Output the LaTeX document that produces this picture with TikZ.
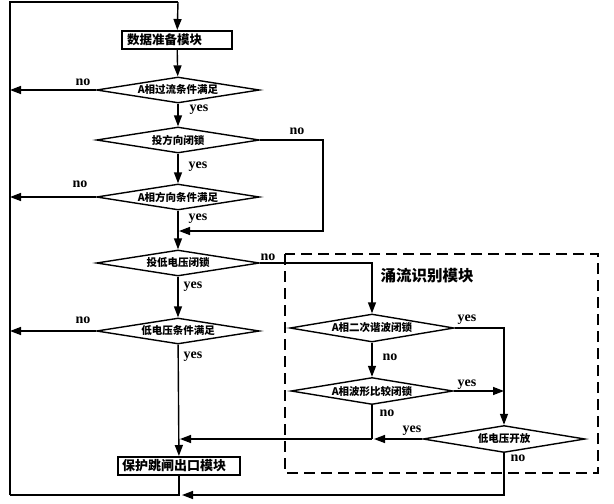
\documentclass[tikz,border=0pt]{standalone}
\usepackage{fontspec}
\setmainfont{Liberation Serif}
\newfontfamily\cjk{Noto Sans CJK SC}
\usetikzlibrary{shapes.geometric,arrows.meta}
\begin{document}
\begin{tikzpicture}[x=1pt,y=-1pt,line width=1.4pt,
 arr/.style={-{Triangle[length=11pt,width=8pt]}},
 dia/.style={diamond,draw,aspect=6,inner sep=0pt,minimum width=163pt,minimum height=26pt,font=\cjk\bfseries\fontsize{10.5}{10.5}\selectfont},
 blk/.style={draw,line width=2pt,inner ysep=0pt,minimum height=18pt,align=left,font=\cjk\bfseries\fontsize{12.5}{12.5}\selectfont},
 lbl/.style={font=\bfseries\fontsize{14}{14}\selectfont,inner sep=0pt}]
\useasboundingbox (0,0) rectangle (614,504);
% nodes
\node[blk,inner xsep=5pt,text width=100pt] (prep) at (177,40) {数据准备模块};
\node[dia] (d1) at (178,90) {A相过流条件满足};
\node[dia] (d2) at (178,140) {投方向闭锁};
\node[dia] (d3) at (178,197) {A相方向条件满足};
\node[dia] (d4) at (178,263) {投低电压闭锁};
\node[dia] (d5) at (178,331) {低电压条件满足};
\node[blk,inner xsep=4pt,text width=114pt,font=\cjk\bfseries\fontsize{13}{13}\selectfont] (out) at (179,466) {保护跳闸出口模块};
\node[dia,minimum width=164pt,minimum height=28pt] (a) at (372,328) {A相二次谐波闭锁};
\node[dia,minimum width=162pt,minimum height=27pt] (b) at (372,391) {A相波形比较闭锁};
\node[dia,minimum width=162pt,minimum height=27pt] (c) at (504,439) {低电压开放};
\node[font=\cjk\bfseries\fontsize{15.5}{15.5}\selectfont,inner sep=0pt] (title) at (427,276) {涌流识别模块};
% frame
\draw[dashed,dash pattern=on 11pt off 6pt,line width=1.6pt] (285,254) rectangle (598,473);
% coordinates
\coordinate (tl) at (10,2);
\coordinate (tr) at (178,2);
\coordinate (bl) at (10,495);
\coordinate (bj) at (182,495);
\coordinate (r2) at (323,140);
\coordinate (r2b) at (323,231);
\coordinate (j2) at (179,231);
\coordinate (r4) at (372,263);
\coordinate (ar) at (504,328);
\coordinate (jb) at (372,439);
\coordinate (jc) at (374,439);
\coordinate (jm) at (180,439);
% connectors
\draw (bl) -- (tl) -- (tr);
\draw[arr] (tr) -- (prep);
\draw[arr] (prep) -- (d1);
\draw[arr] (d1.west) -- (d1.west -| tl);
\draw[arr] (d1) -- (d2);
\draw[arr] (d2.east) -- (r2) -- (r2b) -- (j2);
\draw[arr] (d2) -- (d3);
\draw[arr] (d3.west) -- (d3.west -| tl);
\draw[arr] (d3) -- (d4);
\draw[arr] (d4.east) -- (r4) -- (a);
\draw[arr] (d4) -- (d5);
\draw[arr] (d5.west) -- (d5.west -| tl);
\draw[arr] (d5) -- (out);
\draw[arr] (a.east) -- (ar) -- (c);
\draw[arr] (a) -- (b);
\draw[arr] (b.east) -- (b.east -| ar);
\draw[arr] (c.west) -- (jc);
\draw (b.south) -- (jb);
\draw[arr] (jb) -- (jm);
\draw (out.south) -- (out.south |- bl) -- (bl);
\draw[arr] (c.south) -- (c.south |- bl) -- (bj);
% labels
\node[lbl] (n1) at (83,82) {no};
\node[lbl] (y1) at (199,110) {yes};
\node[lbl] (n2) at (297,131) {no};
\node[lbl] (y2) at (198,167) {yes};
\node[lbl] (n3) at (80,184) {no};
\node[lbl] (y3) at (198,219) {yes};
\node[lbl] (n4) at (268,257) {no};
\node[lbl] (y4) at (193,287) {yes};
\node[lbl] (n5) at (83,320) {no};
\node[lbl] (y5) at (193,357) {yes};
\node[lbl] (ya) at (467,320) {yes};
\node[lbl] (na) at (390,357) {no};
\node[lbl] (yb) at (467,385) {yes};
\node[lbl] (nb) at (387,413) {no};
\node[lbl] (yc) at (412,431) {yes};
\node[lbl] (nc) at (518,458) {no};
\end{tikzpicture}
\end{document}
